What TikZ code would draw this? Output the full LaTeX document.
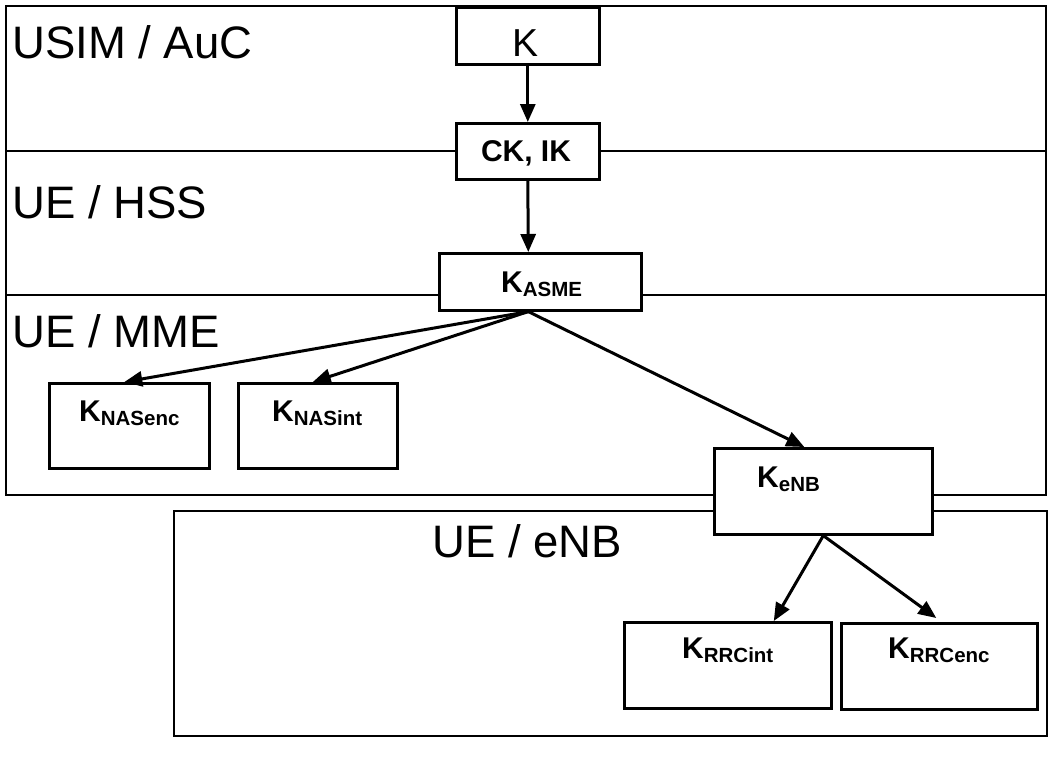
\documentclass[tikz,border=0pt]{standalone}
\usepackage{fontspec}
\setmainfont{Liberation Sans}
\usetikzlibrary{arrows.meta}
\newcommand\kk[1]{{\fontsize{30}{30}\selectfont\bfseries K}\raisebox{-4pt}{\fontsize{20.5}{20.5}\selectfont\bfseries #1}}
\tikzset{
  frame/.style={line width=2.6pt},
  keybox/.style={draw, line width=2.6pt, fill=white, anchor=north west, inner sep=0pt},
  area/.style={anchor=base west, inner sep=0pt, font=\fontsize{45.5}{45.5}\selectfont},
  keytext/.style={anchor=base west, inner sep=0pt},
  conn/.style={line width=3pt, -{Triangle[length=18pt,width=15pt]}}
}
\begin{document}
\begin{tikzpicture}[x=1pt,y=-1pt]
\useasboundingbox (0,0) rectangle (1053,756);
% frames
\draw[frame] (6,6) rectangle (1046,495);
\draw[frame] (6,151) -- (1046,151);
\draw[frame] (6,295) -- (1046,295);
\draw[frame] (174,511) rectangle (1047,736);
% area labels
\node[area] (lusim) at (12,58) {USIM / AuC};
\node[area] (lhss) at (12,218) {UE / HSS};
\node[area] (lmme) at (12,347) {UE / MME};
\node[area] (lenb) at (432,557) {UE / eNB};
% boxes
\node[keybox, minimum width=143pt, minimum height=57pt] (k) at (455,6) {};
\node[keybox, minimum width=143pt, minimum height=56pt] (ckik) at (455,122) {};
\node[keybox, minimum width=202pt, minimum height=57pt] (asme) at (438,252) {};
\node[keybox, minimum width=160pt, minimum height=85pt] (nasenc) at (48,382) {};
\node[keybox, minimum width=159pt, minimum height=85pt] (nasint) at (237,382) {};
\node[keybox, minimum width=218pt, minimum height=86pt] (kenb) at (713,447) {};
\node[keybox, minimum width=207pt, minimum height=86pt] (rrcint) at (623,621) {};
\node[keybox, minimum width=196pt, minimum height=86pt] (rrcenc) at (840,622) {};
% texts
\node[anchor=base, inner sep=0pt, font=\fontsize{39}{39}\selectfont] (tk) at (526,56) {K};
\node[anchor=base, inner sep=0pt, font=\fontsize{30}{30}\selectfont\bfseries] (tck) at (526,161) {CK, IK};
\node[keytext] (tasme) at (501,292) {\kk{ASME}};
\node[keytext] (tnasenc) at (79,421) {\kk{NASenc}};
\node[keytext] (tnasint) at (272,421) {\kk{NASint}};
\node[keytext] (tenb) at (757,487) {\kk{eNB}};
\node[keytext] (trrcint) at (682,658) {\kk{RRCint}};
\node[keytext] (trrcenc) at (888,658) {\kk{RRCenc}};
% connectors
\draw[conn] (k.south) -- (ckik.north);
\draw[conn] (ckik.south) -- ([xshift=-12pt]asme.north);
\draw[conn] ([xshift=-12pt]asme.south) -- ([xshift=-5pt]nasenc.north);
\draw[conn] ([xshift=-12pt]asme.south) -- ([xshift=-5pt]nasint.north);
\draw[conn] ([xshift=-12pt]asme.south) -- ([xshift=-19pt]kenb.north);
\draw[conn] (kenb.south) -- ([xshift=46pt]rrcint.north);
\draw[conn] (kenb.south) -- ([xshift=-3pt,yshift=4pt]rrcenc.north);
\end{tikzpicture}
\end{document}
